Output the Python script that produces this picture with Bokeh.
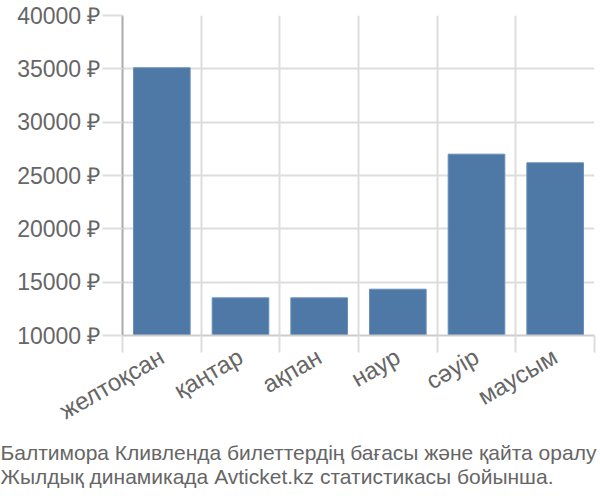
import math
from bokeh.plotting import figure
from bokeh.models import Range1d, FixedTicker, PrintfTickFormatter, Title
from bokeh.embed import file_html
from bokeh.resources import INLINE

months = ["желтоқсан", "қаңтар", "ақпан", "наур", "сәуір", "маусым"]
prices = [35100, 13530, 13530, 14340, 27000, 26190]
y_ticks = [10000, 15000, 20000, 25000, 30000, 35000, 40000]
caption_1 = "Балтимора Кливленда билеттердің бағасы және қайта оралу"
caption_2 = "Жылдық динамикада Avticket.kz статистикасы бойынша."

FONT = "Liberation Sans"
TXT = "#666666"
GRID = "#dddddd"

centers = [i + 0.5 for i in range(len(months))]

p = figure(width=600, height=500, output_backend="svg", toolbar_location=None,
           x_range=Range1d(0, len(months)), y_range=Range1d(y_ticks[0], y_ticks[-1]),
           min_border_left=122, min_border_right=6, min_border_top=15, min_border_bottom=165)
p.outline_line_color = None

p.vbar(x=centers, top=prices, bottom=y_ticks[0], width=0.72,
       fill_color="#4e79a7", line_color="#6a8fb8", line_width=1)

# x axis
xt = FixedTicker(ticks=centers, minor_ticks=list(range(len(months) + 1)))
p.xaxis.ticker = xt
p.xaxis.major_label_overrides = {c: m for c, m in zip(centers, months)}
p.xaxis.major_tick_line_color = None
p.xaxis.minor_tick_out = 17
p.xaxis.minor_tick_in = 0
p.xaxis.minor_tick_line_color = GRID
p.xaxis.minor_tick_line_width = 2
p.xaxis.axis_line_color = "#cccccc"
p.xaxis.axis_line_width = 2
p.xaxis.major_label_orientation = math.pi / 6
p.xaxis.major_label_text_font = FONT
p.xaxis.major_label_text_font_size = "24px"
p.xaxis.major_label_text_color = TXT
p.xaxis.major_label_standoff = 2

# y axis
p.yaxis.ticker = FixedTicker(ticks=y_ticks)
p.yaxis.formatter = PrintfTickFormatter(format="%d ₽")
p.yaxis.major_tick_out = 20
p.yaxis.major_tick_in = 0
p.yaxis.major_tick_line_color = GRID
p.yaxis.major_tick_line_width = 2
p.yaxis.minor_tick_line_color = None
p.yaxis.axis_line_color = "#aaaaaa"
p.yaxis.axis_line_width = 2
p.yaxis.major_label_text_font = FONT
p.yaxis.major_label_text_font_size = "23px"
p.yaxis.major_label_text_color = TXT
p.yaxis.major_label_standoff = 2

# grids
p.xgrid.ticker = FixedTicker(ticks=list(range(len(months) + 1)))
p.xgrid.grid_line_color = GRID
p.xgrid.grid_line_width = 2
p.ygrid.grid_line_color = GRID
p.ygrid.grid_line_width = 2

caption = Title(text=caption_1 + "\n" + caption_2, align="left", text_font=FONT,
                text_font_size="21px", text_color=TXT, text_font_style="normal",
                text_line_height=1.07, offset=-122, standoff=0)
p.add_layout(caption, "below")

open("out.html", "w").write(file_html(p, INLINE))
